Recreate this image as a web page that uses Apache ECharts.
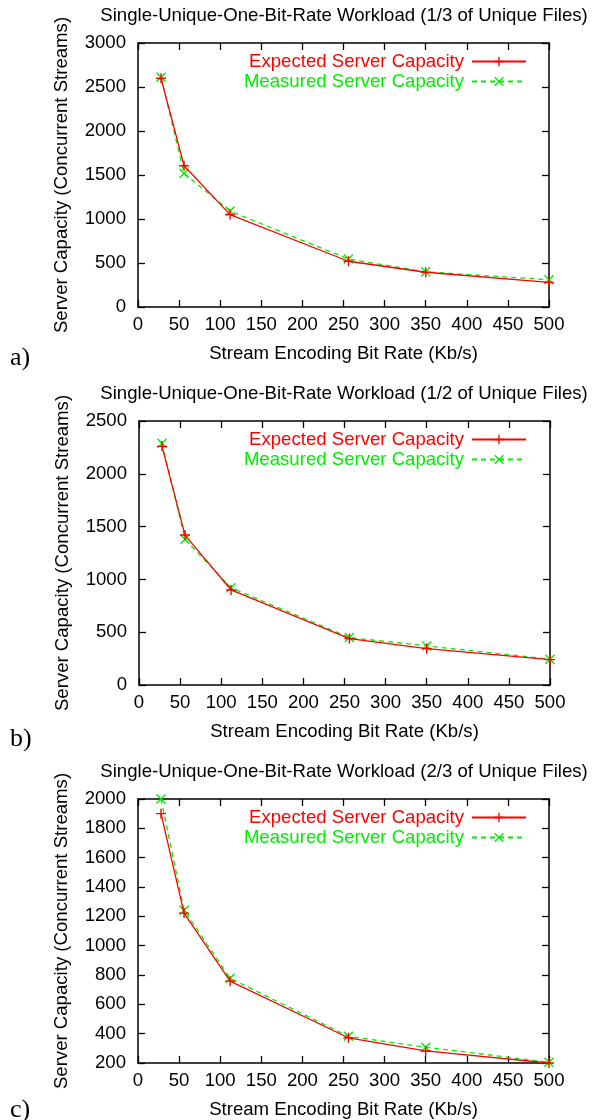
<!DOCTYPE html>
<html>
<head>
<meta charset="utf-8">
<script src="https://cdn.jsdelivr.net/npm/echarts@6/dist/echarts.min.js"></script>
<style>
html,body{margin:0;padding:0;background:#fff;}
#chart{width:603px;height:1120px;}
</style>
</head>
<body>
<div id="chart"></div>
<script>
// ---- data ----
const bitRates = [28, 56, 112, 256, 350, 500];
const titles = [
  'Single-Unique-One-Bit-Rate Workload (1/3 of Unique Files)',
  'Single-Unique-One-Bit-Rate Workload (1/2 of Unique Files)',
  'Single-Unique-One-Bit-Rate Workload (2/3 of Unique Files)'
];
const panelLabels = ['a)', 'b)', 'c)'];
const expectedA = [2600, 1605, 1050, 520, 395, 280];
const measuredA = [2610, 1520, 1090, 545, 400, 310];
const expectedB = [2260, 1420, 900, 440, 345, 240];
const measuredB = [2290, 1380, 920, 450, 370, 245];
const expectedC = [1900, 1222, 758, 372, 282, 200];
const measuredC = [2000, 1242, 778, 382, 308, 205];
const yMin = [0, 0, 200];
const yMax = [3000, 2500, 2000];
const yStep = [500, 500, 200];
const xAxisName = 'Stream Encoding Bit Rate (Kb/s)';
const yAxisName = 'Server Capacity (Concurrent Streams)';
const seriesNames = ['Expected Server Capacity', 'Measured Server Capacity'];

// ---- layout ----
const FONT = '"Liberation Sans", Arial, sans-serif';
const FS = 18.6;
const RED = '#ff0000', GREEN = '#00ee00';
const grids = [
  {left: 138, top: 43, width: 411, height: 264},
  {left: 139, top: 421, width: 411, height: 264},
  {left: 138, top: 799, width: 411, height: 264}
];
const titleTops = [6, 384, 762];
const panelLabelY = [360, 741, 1112];
const legendTops = [52, 430, 808];

const plusSym = 'path://M0,4.3H10V5.7H0Z M4.3,0H5.7V10H4.3Z';
const crossSym = 'path://M0,1L1,0L10,9L9,10Z M9,0L10,1L1,10L0,9Z';

const expected = [expectedA, expectedB, expectedC];
const measured = [measuredA, measuredB, measuredC];

const option = {
  backgroundColor: '#fff',
  animation: false,
  title: [], grid: [], xAxis: [], yAxis: [], legend: [], series: [],
  graphic: []
};

const axisLine = {show: true, onZero: false, lineStyle: {color: '#000', width: 1.5}};
const tickIn = {show: true, inside: true, length: 7, lineStyle: {color: '#000', width: 1.3}};
const plainNum = v => String(v);

for (let i = 0; i < 3; i++) {
  option.title.push({
    text: titles[i], left: 344, top: titleTops[i], textAlign: 'center', padding: 0,
    textStyle: {fontFamily: FONT, fontSize: FS, fontWeight: 'normal', color: '#000'}
  });
  option.grid.push(Object.assign({show: false}, grids[i]));
  // bottom x
  option.xAxis.push({
    type: 'value', gridIndex: i, position: 'bottom', min: 0, max: 500, interval: 50,
    axisLine: axisLine, axisTick: tickIn, splitLine: {show: false},
    axisLabel: {margin: 8, fontFamily: FONT, fontSize: FS, color: '#000', formatter: plainNum},
    name: xAxisName, nameLocation: 'middle', nameGap: 37,
    nameTextStyle: {fontFamily: FONT, fontSize: FS, color: '#000'}
  });
  // top x (mirror)
  option.xAxis.push({
    type: 'value', gridIndex: i, position: 'top', min: 0, max: 500, interval: 50,
    axisLine: axisLine, axisTick: tickIn, splitLine: {show: false},
    axisLabel: {show: false}
  });
  // left y
  option.yAxis.push({
    type: 'value', gridIndex: i, position: 'left', min: yMin[i], max: yMax[i], interval: yStep[i],
    axisLine: axisLine, axisTick: tickIn, splitLine: {show: false},
    axisLabel: {margin: 12, fontFamily: FONT, fontSize: FS, color: '#000', formatter: plainNum},
    name: yAxisName, nameLocation: 'middle', nameGap: 67, nameRotate: 90,
    nameTextStyle: {fontFamily: FONT, fontSize: FS, color: '#000'}
  });
  // right y (mirror)
  option.yAxis.push({
    type: 'value', gridIndex: i, position: 'right', min: yMin[i], max: yMax[i], interval: yStep[i],
    axisLine: axisLine, axisTick: tickIn, splitLine: {show: false},
    axisLabel: {show: false}
  });

  option.series.push({
    name: seriesNames[0], type: 'line', xAxisIndex: 2 * i, yAxisIndex: 2 * i,
    data: bitRates.map((x, k) => [x, expected[i][k]]),
    symbol: plusSym, symbolSize: 10, showAllSymbol: true,
    lineStyle: {color: RED, width: 1.3},
    itemStyle: {color: RED}, z: 3
  });
  option.series.push({
    name: seriesNames[1], type: 'line', xAxisIndex: 2 * i, yAxisIndex: 2 * i,
    data: bitRates.map((x, k) => [x, measured[i][k]]),
    symbol: crossSym, symbolSize: 10, showAllSymbol: true,
    lineStyle: {color: GREEN, width: 1.3, type: [5, 4]},
    itemStyle: {color: GREEN}, z: 2
  });

  option.legend.push({
    data: [
      {name: seriesNames[0], textStyle: {color: RED}},
      {name: seriesNames[1], textStyle: {color: GREEN}}
    ],
    orient: 'vertical', right: 76, top: legendTops[i],
    align: 'right', itemWidth: 54, itemHeight: 12, itemGap: 1, padding: 0,
    textStyle: {fontFamily: FONT, fontSize: FS, lineHeight: 18, padding: [0, 3, 0, 0]},
    selectedMode: false
  });

  option.graphic.push({
    type: 'text', left: 10, top: panelLabelY[i] - 15,
    style: {text: panelLabels[i], font: '26px "Liberation Serif", "Times New Roman", serif', fill: '#000'}
  });
}

const chart = echarts.init(document.getElementById('chart'), null, {renderer: 'canvas'});
chart.setOption(option);
</script>
</body>
</html>
